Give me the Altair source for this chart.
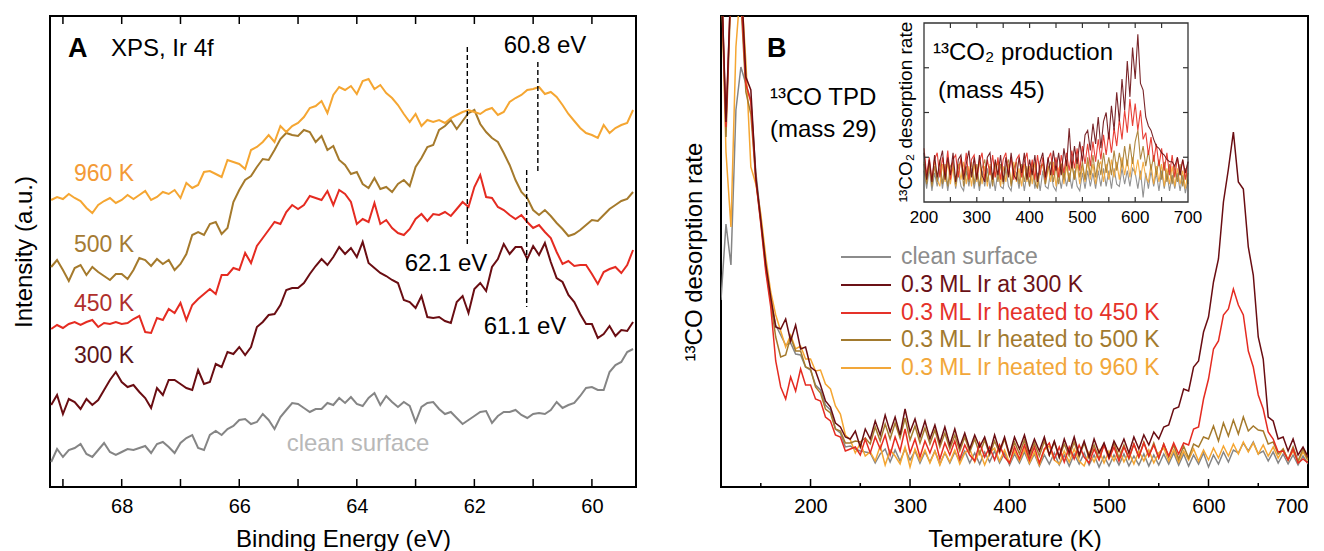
import altair as alt
import pandas as pd

FONT = "Liberation Sans"

# ---------------- Panel A : XPS Ir 4f ----------------
ENERGY = [round(69.2 - 0.1 * i, 1) for i in range(100)]

XPS_960K = [287,290,288,293,289,286,279,274,282,286,
            289,284,287,292,288,292,296,287,290,295,
            293,297,289,304,299,302,315,316,313,310,
            327,325,323,318,337,340,345,352,345,361,
            355,361,364,370,379,381,386,374,392,400,
            397,401,393,406,408,398,402,394,389,382,
            373,365,373,361,367,365,367,364,369,372,
            375,377,375,373,377,379,372,375,385,389,
            392,397,398,400,393,395,390,382,373,366,
            359,354,352,349,362,354,359,362,364,377]
XPS_500K = [220,227,217,206,219,222,212,220,215,211,
            207,213,213,208,217,229,227,221,228,223,
            227,217,223,233,252,255,252,263,265,253,
            259,285,297,307,311,320,328,327,337,348,
            354,352,351,357,355,345,351,337,341,327,
            322,313,315,303,299,309,298,300,295,303,
            307,301,320,329,340,342,357,361,367,358,
            366,374,377,363,355,349,345,334,322,307,
            295,289,277,272,277,271,264,258,251,253,
            257,262,267,266,272,278,282,286,288,295]
XPS_450K = [158,162,159,163,165,162,165,167,160,164,
            163,165,163,164,168,171,155,154,169,167,
            178,174,184,167,182,188,193,198,193,212,
            212,219,217,234,224,241,249,257,265,263,
            275,282,278,282,291,289,287,296,282,297,
            293,285,263,268,265,284,263,267,259,254,
            252,258,268,273,266,273,272,275,271,278,
            285,280,300,312,290,289,280,277,272,268,
            272,265,259,262,255,249,235,223,226,221,
            222,222,213,203,215,218,220,214,222,237]
XPS_300K = [82,92,73,88,85,78,88,82,87,97,
            107,115,105,100,102,95,89,79,99,92,
            107,107,103,99,97,117,103,105,123,120,
            135,133,140,132,140,160,165,172,173,182,
            197,199,199,204,213,221,228,222,230,240,
            233,239,230,245,224,219,214,211,207,204,
            187,185,179,191,170,169,170,166,164,185,
            191,174,198,204,196,220,228,243,233,240,
            240,228,241,232,244,225,209,205,192,185,
            173,163,163,149,153,161,151,157,156,165]
XPS_CLEAN = [25,38,30,37,39,43,33,30,37,44,
             35,32,35,38,37,39,41,34,43,45,
             40,34,44,49,52,39,37,52,56,52,
             58,61,67,68,63,65,73,67,58,70,
             77,84,83,79,75,78,78,84,82,89,
             84,90,83,81,89,94,82,91,85,80,
             85,81,65,80,84,85,78,73,75,69,
             63,67,71,75,76,64,71,75,75,77,
             72,69,73,74,73,77,85,79,82,84,
             91,99,100,97,97,115,122,125,135,138]

PEAK_E = [62.12, 60.92, 61.11]
PEAK_TOP = [440, 425, 317]
PEAK_BOTTOM = [242, 315, 180]

# ---------------- Panel B : 13CO TPD ----------------
TEMP_B = list(range(110, 705, 5))

TPD_300K = [525,365,505,545,515,410,397,310,267,223,
            190,160,158,168,146,162,138,140,120,116,
            102,86,80,64,60,50,48,56,40,58,
            48,66,52,72,55,70,52,78,55,68,
            50,66,48,62,44,60,42,58,40,54,
            38,52,40,50,34,52,36,50,32,50,
            38,52,34,48,36,50,32,46,30,48,
            34,50,32,46,30,48,34,44,30,46,
            36,48,34,50,38,52,42,55,48,60,
            62,78,80,98,96,120,126,155,170,205,
            228,285,318,355,305,298,240,212,150,128,
            70,66,48,50,36,48,32,40,30]
TPD_450K = [525,360,505,535,495,403,385,307,263,215,
            180,126,100,88,110,96,118,102,102,88,
            86,70,66,52,50,36,38,40,32,48,
            34,50,38,52,32,50,36,58,34,48,
            30,46,34,48,28,44,32,46,28,42,
            32,26,44,30,40,27,42,30,24,40,
            28,42,27,40,24,38,44,28,40,25,
            40,28,42,30,24,38,27,42,28,40,
            26,40,29,43,30,44,31,42,29,43,
            31,44,33,44,42,58,60,88,108,138,
            146,172,178,198,182,172,136,120,92,78,
            55,48,35,36,27,38,24,28,24]
TPD_500K = [525,350,495,525,485,395,373,307,265,219,
            185,150,130,132,150,136,136,120,118,100,
            94,78,74,58,56,44,44,46,45,49,
            43,60,46,63,48,64,49,69,47,61,
            44,59,43,57,40,54,38,52,36,50,
            35,48,33,47,32,46,34,48,31,45,
            33,47,30,44,31,46,32,45,29,43,
            31,45,30,44,29,42,28,43,30,44,
            29,42,28,43,30,45,31,44,29,43,
            30,42,28,41,29,43,40,50,48,61,
            46,64,51,67,53,70,56,61,57,56,
            43,45,33,38,27,40,26,38,27]
TPD_960K = [525,335,260,440,505,425,320,303,273,230,
            195,172,156,140,152,138,141,128,128,116,
            117,103,98,81,73,52,47,34,44,31,
            35,26,41,22,37,31,23,40,20,38,
            26,37,24,36,22,35,25,37,23,34,
            38,25,36,22,34,39,26,37,24,36,
            26,38,24,35,22,37,41,27,23,36,
            25,38,26,21,35,25,37,24,36,26,
            38,25,35,23,36,26,37,24,34,39,
            26,37,25,36,27,38,26,37,27,39,
            29,41,31,43,33,45,35,44,33,42,
            31,40,29,38,27,36,25,35,26]
TPD_CLEAN = [187,263,222,377,420,403,387,315,269,221,
             187,162,152,142,144,133,132,120,117,102,
             97,82,77,58,54,40,41,38,36,35,
             34,24,33,38,25,37,26,38,27,36,
             24,35,25,36,23,34,24,35,26,36,
             24,34,23,35,25,36,24,34,22,33,
             24,35,23,33,21,32,23,34,22,32,
             21,33,23,34,22,32,20,31,21,32,
             22,33,21,31,22,33,21,32,22,33,
             23,34,22,33,21,32,23,34,20,32,
             23,35,25,37,34,44,36,45,33,36,
             26,35,24,33,23,32,22,31,23]

# ---------------- Inset : 13CO2 production ----------------
TEMP_INSET = list(range(200, 705, 5))

CO2_300K = [110,50,95,45,105,55,90,115,50,100,
            60,110,45,95,105,50,85,115,55,100,
            50,105,60,45,100,110,50,95,60,105,
            45,100,55,110,60,50,100,65,110,50,
            95,60,105,45,90,110,55,100,60,115,
            70,110,60,120,80,165,75,125,85,135,
            90,150,160,115,175,130,190,120,180,200,
            140,215,160,245,180,275,205,315,235,345,
            275,375,265,250,190,170,160,140,125,120,
            110,105,95,90,90,80,100,60,95,65,
            90]
CO2_450K = [120,60,100,50,95,110,55,100,60,115,
            50,95,105,55,100,60,110,50,95,105,
            55,90,110,50,95,60,105,55,100,50,
            95,110,60,100,50,95,105,55,90,110,
            55,95,50,105,60,100,50,95,110,60,
            100,55,105,65,110,70,115,75,120,70,
            125,85,130,80,135,90,140,95,150,105,
            155,110,165,125,185,140,205,155,230,170,
            220,160,205,140,155,105,145,90,130,80,
            120,70,110,60,105,55,100,60,95,50,
            90]
CO2_500K = [85,40,90,35,80,45,95,40,85,35,
            80,90,40,75,95,35,80,45,90,40,
            85,35,75,95,45,80,35,90,45,85,
            40,80,95,35,75,90,40,85,45,80,
            35,90,45,30,80,85,40,75,90,45,
            80,40,85,50,95,45,85,50,100,55,
            90,50,100,60,105,55,95,60,110,65,
            100,60,115,70,110,75,125,80,130,85,
            135,160,95,125,80,115,70,105,60,95,
            50,90,45,85,40,80,45,85,35,75,
            40]
CO2_960K = [90,45,85,40,95,50,35,85,45,90,
            40,80,35,85,50,90,40,80,35,85,
            45,95,40,80,35,85,45,75,90,35,
            80,45,85,40,90,45,75,35,85,45,
            80,40,90,35,75,85,40,80,45,90,
            35,75,85,40,80,45,90,50,85,40,
            80,45,90,50,85,40,80,90,45,85,
            50,95,55,90,50,100,60,95,55,100,
            60,95,50,90,55,45,85,40,80,45,
            85,35,75,40,80,35,75,40,70,30,
            65]
CO2_CLEAN = [70,30,75,25,65,35,75,30,70,25,
             65,75,30,70,35,25,70,35,75,30,
             65,25,70,35,75,30,65,25,70,35,
             30,75,35,25,70,65,30,70,25,65,
             35,75,30,65,25,70,35,30,70,35,
             25,65,30,70,35,65,30,70,35,25,
             65,30,70,35,65,30,70,35,75,35,
             70,30,75,40,35,75,40,70,35,75,
             65,30,70,10,65,30,70,35,65,25,
             70,30,65,25,60,30,65,25,60,20,
             50]

LEGEND_LABELS = ["clean surface", "0.3 ML Ir at 300 K", "0.3 ML Ir heated to 450 K",
                 "0.3 ML Ir heated to 500 K", "0.3 ML Ir heated to 960 K"]
TICKS_A = [60, 61, 62, 63, 64, 65, 66, 67, 68, 69]
LABELS_A = [60, 62, 64, 66, 68]
TICKS_B_MAJOR = [200, 300, 400, 500, 600, 700]
TICKS_B_MINOR = [150, 250, 350, 450, 550, 650]
INSET_XTICKS = [250, 300, 350, 400, 450, 500, 550, 600, 650]
INSET_YTICKS = [100, 200, 300]

# ---------------- styles ----------------
C_CLEAN, C_300, C_450, C_500, C_960 = "#858585", "#6A0D12", "#E52B21", "#A57A2C", "#F5A632"
LEGEND_COLORS = ["#8C8C8C", "#6B1117", "#E5322A", "#A27A2E", "#F2A73A"]
WA, WB, H = 586, 587, 471


def one(**kw):
    return pd.DataFrame({k: [v] for k, v in kw.items()})


def label(text, x, y, color="black", size=24, align="left", weight="normal", angle=None):
    kw = dict(align=align, baseline="middle", fontSize=size, font=FONT, color=color, fontWeight=weight)
    if angle is not None:
        kw["angle"] = angle
    return alt.Chart(one(t=text)).mark_text(**kw).encode(x=alt.value(x), y=alt.value(y), text="t:N")


# ---------- Panel A ----------
xA_scale = alt.Scale(domain=[59.25, 69.22], reverse=True, nice=False, zero=False)
yA_scale = alt.Scale(domain=[0, 471], nice=False, zero=False)
xA = alt.X("E:Q", scale=xA_scale,
           axis=alt.Axis(values=LABELS_A, format="d", title="Binding Energy (eV)",
                         labelPadding=9, titlePadding=11))
yA = alt.Y("I:Q", scale=yA_scale,
           axis=alt.Axis(title="Intensity (a.u.)", labels=False, titlePadding=14))

layersA = []
for vals, col in [(XPS_CLEAN, C_CLEAN), (XPS_300K, C_300), (XPS_450K, C_450),
                  (XPS_500K, C_500), (XPS_960K, C_960)]:
    df = pd.DataFrame({"E": ENERGY, "I": vals})
    layersA.append(alt.Chart(df).mark_line(color=col, strokeWidth=2).encode(x=xA, y=yA))

dash_df = pd.DataFrame({"E": PEAK_E, "I": PEAK_TOP, "I2": PEAK_BOTTOM})
layersA.append(alt.Chart(dash_df).mark_rule(color="black", strokeWidth=1.4, strokeDash=[5, 3])
               .encode(x="E:Q", y="I:Q", y2="I2:Q"))
tickA = pd.DataFrame({"E": TICKS_A})
layersA.append(alt.Chart(tickA).mark_rule(color="black", strokeWidth=1.5)
               .encode(x="E:Q", y=alt.value(H), y2=alt.value(H - 8)))
layersA.append(alt.Chart(tickA).mark_rule(color="black", strokeWidth=1.5)
               .encode(x="E:Q", y=alt.value(0), y2=alt.value(8)))

layersA += [
    label("A", 18, 33, size=27, weight="bold"),
    label("XPS, Ir 4f", 61, 33, size=24),
    label("60.8 eV", 495, 30, align="center"),
    label("62.1 eV", 396, 248, align="center"),
    label("61.1 eV", 475, 311, align="center"),
    label("960 K", 24, 158, color="#F39A36", size=23),
    label("500 K", 24, 229, color="#A57B33", size=23),
    label("450 K", 24, 288, color="#B0302C", size=23),
    label("300 K", 24, 340, color="#5B1419", size=23),
    label("clean surface", 308, 428, color="#B8B8B8", size=24, align="center"),
]
panelA = alt.layer(*layersA).properties(width=WA, height=H)

# ---------- Panel B (main) ----------
xB = alt.X("T:Q", scale=alt.Scale(domain=[110, 700], nice=False, zero=False),
           axis=alt.Axis(values=TICKS_B_MAJOR, format="d", title="Temperature (K)",
                         labelPadding=9, titlePadding=11))
yB = alt.Y("R:Q", scale=alt.Scale(domain=[0, 471], nice=False, zero=False),
           axis=alt.Axis(title="¹³CO desorption rate", labels=False, titlePadding=15))

mainB = []
for vals, col in [(TPD_CLEAN, C_CLEAN), (TPD_960K, C_960), (TPD_500K, C_500),
                  (TPD_450K, C_450), (TPD_300K, C_300)]:
    df = pd.DataFrame({"T": TEMP_B, "R": vals})
    mainB.append(alt.Chart(df).mark_line(color=col, strokeWidth=1.5, clip=True).encode(x=xB, y=yB))
mainB.append(alt.Chart(pd.DataFrame({"T": TICKS_B_MAJOR})).mark_rule(color="black", strokeWidth=1.5)
             .encode(x="T:Q", y=alt.value(H), y2=alt.value(H - 8)))
mainB.append(alt.Chart(pd.DataFrame({"T": TICKS_B_MINOR})).mark_rule(color="black", strokeWidth=1.5)
             .encode(x="T:Q", y=alt.value(H), y2=alt.value(H - 4)))
mainB += [
    label("B", 46, 33, size=27, weight="bold"),
    label("¹³CO TPD", 49, 82, size=24),
    label("(mass 29)", 49, 114, size=24),
]
mainLayer = alt.layer(*mainB)

# ---------- Inset ----------
xI = alt.X("T:Q", scale=alt.Scale(domain=[200, 700], range=[203, 467], nice=False, zero=False), axis=None)
yI = alt.Y("R:Q", scale=alt.Scale(domain=[0, 400], range=[186, 7], nice=False, zero=False), axis=None)
inset = []
for vals, col in [(CO2_CLEAN, C_CLEAN), (CO2_960K, C_960), (CO2_500K, C_500),
                  (CO2_450K, C_450), (CO2_300K, C_300)]:
    df = pd.DataFrame({"T": TEMP_INSET, "R": vals})
    inset.append(alt.Chart(df).mark_line(color=col, strokeWidth=1.1, opacity=0.9).encode(x=xI, y=yI))
inset.append(alt.Chart(one(a=1)).mark_rect(fillOpacity=0, stroke="#333333", strokeWidth=1.3)
             .encode(x=alt.value(203), x2=alt.value(467), y=alt.value(7), y2=alt.value(186)))
ixt = pd.DataFrame({"T": INSET_XTICKS})
inset.append(alt.Chart(ixt).mark_rule(color="#333333", strokeWidth=1.2)
             .encode(x="T:Q", y=alt.value(186), y2=alt.value(181)))
inset.append(alt.Chart(ixt).mark_rule(color="#333333", strokeWidth=1.2)
             .encode(x="T:Q", y=alt.value(7), y2=alt.value(12)))
iyt = pd.DataFrame({"R": INSET_YTICKS})
inset.append(alt.Chart(iyt).mark_rule(color="#333333", strokeWidth=1.2)
             .encode(y="R:Q", x=alt.value(203), x2=alt.value(208)))
inset.append(alt.Chart(iyt).mark_rule(color="#333333", strokeWidth=1.2)
             .encode(y="R:Q", x=alt.value(467), x2=alt.value(462)))
ilab = pd.DataFrame({"T": TICKS_B_MAJOR, "lab": [str(v) for v in TICKS_B_MAJOR]})
inset.append(alt.Chart(ilab).mark_text(font=FONT, fontSize=17, baseline="middle", color="black")
             .encode(x="T:Q", y=alt.value(202), text="lab:N"))
inset += [
    label("¹³CO₂ production", 212, 37, size=24),
    label("(mass 45)", 217, 75, size=24),
    label("¹³CO₂ desorption rate", 185, 96, size=19, align="center", angle=270),
]
insetLayer = alt.layer(*inset)

# ---------- Legend ----------
legend = []
rows = [241, 269, 297, 324, 352]
for lab, col, yy in zip(LEGEND_LABELS, LEGEND_COLORS, rows):
    legend.append(alt.Chart(one(a=1)).mark_rule(color=col, strokeWidth=2)
                  .encode(x=alt.value(120), x2=alt.value(170), y=alt.value(yy)))
    legend.append(label(lab, 180, yy, color=col, size=23))

panelB = (alt.layer(mainLayer, insetLayer, *legend)
          .resolve_scale(x="independent", y="independent")
          .properties(width=WB, height=H))

chart = (alt.hconcat(panelA, panelB, spacing=42)
         .properties(padding={"left": 3, "top": 6, "right": 0, "bottom": 0})
         .configure_view(stroke="black", strokeWidth=2)
         .configure_axis(labelFont=FONT, titleFont=FONT, labelFontSize=20, titleFontSize=24,
                         titleFontWeight="normal", labelColor="black", titleColor="black",
                         grid=False, domain=False, ticks=False))

chart.save("out.html", embed_options={"renderer": "svg", "actions": False})
